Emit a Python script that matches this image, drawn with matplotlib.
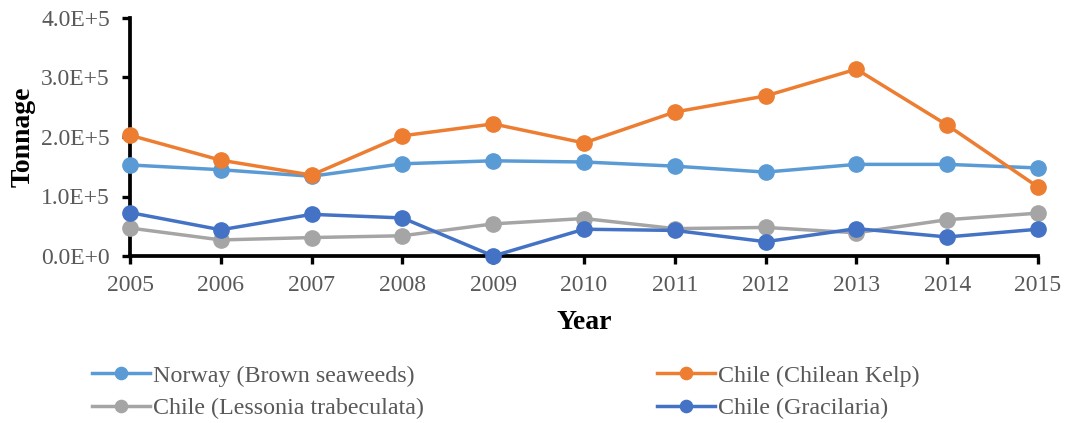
import matplotlib.pyplot as plt
from matplotlib.ticker import FuncFormatter

plt.rcParams['font.family'] = ['Liberation Serif', 'DejaVu Serif']

years = [2005, 2006, 2007, 2008, 2009, 2010, 2011, 2012, 2013, 2014, 2015]
norway_brown = [153000, 145000, 134000, 155000, 160000, 158000, 151000, 141000, 154000, 154000, 148000]
chile_kelp = [203000, 161000, 136000, 202000, 222000, 190000, 242000, 269000, 314000, 220000, 116000]
chile_lessonia = [47000, 27000, 31000, 34000, 54000, 63000, 46000, 48000, 39000, 61000, 72000]
chile_gracilaria = [73000, 44000, 70000, 64000, 0, 45000, 43000, 24000, 46000, 32000, 45000]

labels = ["Norway (Brown seaweeds)", "Chile (Chilean Kelp)",
          "Chile (Lessonia trabeculata)", "Chile (Gracilaria)"]
colors = ["#5b9bd5", "#ed7d31", "#a5a5a5", "#4472c4"]
series = [norway_brown, chile_kelp, chile_lessonia, chile_gracilaria]

grey = "#595959"

fig = plt.figure(figsize=(10.65, 4.23), dpi=100)
ax = fig.add_axes([130 / 1065, 1 - 256 / 423, (1038 - 130) / 1065, (256 - 18) / 423])

lines = []
for vals, c, lab in zip(series, colors, labels):
    ln, = ax.plot(years, vals, color=c, lw=2.5, marker='o', ms=11, label=lab, clip_on=False, zorder=3)
    lines.append(ln)

ax.set_xlim(2005, 2015)
ax.set_ylim(0, 400000)
ax.set_xticks(years)
ax.set_yticks([0, 100000, 200000, 300000, 400000])


def sci(v, pos):
    if v == 0:
        return "0.0E+0"
    e = len(str(int(v))) - 1
    return "{:.1f}E+{}".format(v / 10 ** e, e)


ax.yaxis.set_major_formatter(FuncFormatter(sci))

for s in ['top', 'right']:
    ax.spines[s].set_visible(False)
for s in ['left', 'bottom']:
    ax.spines[s].set_linewidth(2.7)
    ax.spines[s].set_color('black')

ax.tick_params(axis='both', direction='out', length=5.5, width=2.4, colors='black',
               labelcolor=grey, labelsize=17)
ax.tick_params(axis='x', pad=8)
ax.tick_params(axis='y', pad=9)

ax.set_xlabel("Year", fontsize=20, fontweight='bold', labelpad=10)
ax.set_ylabel("Tonnage", fontsize=20, fontweight='bold', labelpad=4)

# legend fills column by column, so reorder to read across rows
order = [0, 2, 1, 3]
fig.legend([lines[i] for i in order], [labels[i] for i in order],
           loc='upper left', bbox_to_anchor=(92 / 1065, 1 - 365 / 423), ncol=2,
           frameon=False, fontsize=17.3, handlelength=2.4, handletextpad=0.15,
           columnspacing=9.7, labelspacing=0.45, borderpad=0, borderaxespad=0,
           labelcolor=grey, markerscale=0.8)

fig.savefig("out.png", dpi=100)
